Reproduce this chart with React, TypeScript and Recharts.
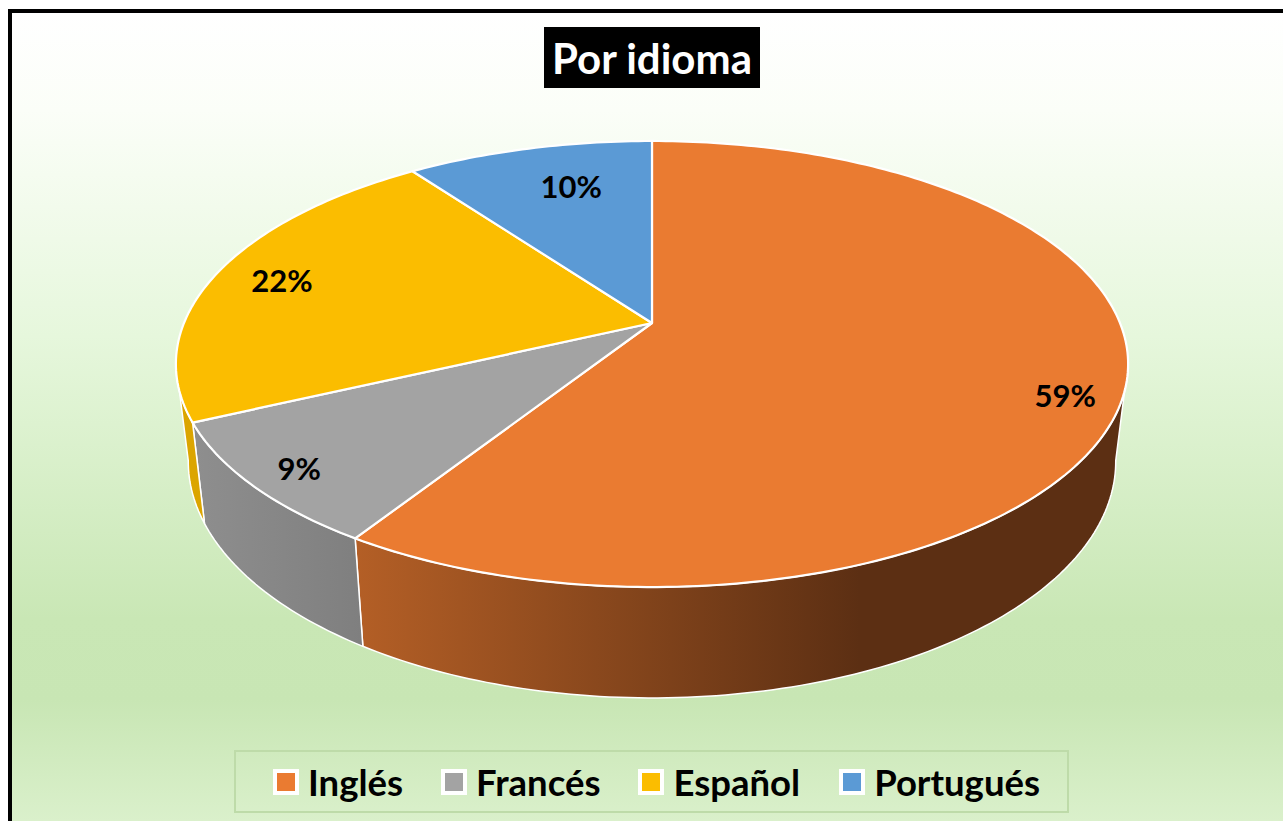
import React from 'react';
import { PieChart, Pie, Cell, Legend } from 'recharts';

const languages = ['Inglés', 'Francés', 'Español', 'Portugués'];
const shares = [59, 9, 22, 10];
const faceColors = ['#ea7b31', '#a3a3a3', '#fbbd00', '#5b9ad5'];
const wallFills = ['url(#wallOrange)', 'url(#wallGray)', '#dba500', '#4a7fb0'];
const labelReach = [0.88, 0.9, 0.86, 0.68];
const labelNudgeX = [-1, 2, 5, 7];
const labelNudgeY = [17, 1, 1, -12];

const chartData = languages.map((name, i) => ({ name, value: shares[i] }));

const FONT = 'Lato, "Open Sans", sans-serif';
const APEX_X = 652;
const APEX_Y = 323;
const RADIUS = 468;
// Tilted-disc projection of the pie (perspective foreshortening).
const TILT_Q = 0.1839;
const TILT_B = 215.5 / 468;
const WALL_SCALE_X = 0.974;
const WALL_SCALE_Y = 1.06;
const WALL_DROP = 95;
const WALL_FROM = 100.4;
const WALL_TO = 259.6;

type P = [number, number];

function project(cx: number, cy: number, R: number, clock: number, r = 1): P {
  const t = (clock * Math.PI) / 180;
  const u = Math.sin(t) * r;
  const v = Math.cos(t) * r;
  const d = 1 + TILT_Q * v;
  return [cx + (R * u) / d, cy - (R * TILT_B * v) / d];
}

function lower(cx: number, cy: number, p: P): P {
  return [cx + (p[0] - cx) * WALL_SCALE_X, cy + WALL_DROP + (p[1] - cy) * WALL_SCALE_Y];
}

function arcPoints(cx: number, cy: number, R: number, a: number, b: number): P[] {
  const n = Math.max(2, Math.ceil(Math.abs(b - a)));
  const pts: P[] = [];
  for (let i = 0; i <= n; i++) pts.push(project(cx, cy, R, a + ((b - a) * i) / n));
  return pts;
}

const toPath = (pts: P[]) =>
  pts.map((p, i) => `${i ? 'L' : 'M'}${p[0].toFixed(2)} ${p[1].toFixed(2)}`).join(' ') + ' Z';

function FaceShape(props: any) {
  const { cx, cy, outerRadius, startAngle, endAngle, fill } = props;
  const pts = arcPoints(cx, cy, outerRadius, 90 - startAngle, 90 - endAngle);
  return <path d={toPath([[cx, cy], ...pts])} fill={fill} stroke="#ffffff" strokeWidth={2.2} strokeLinejoin="round" />;
}

function WallShape(props: any) {
  const { cx, cy, outerRadius, startAngle, endAngle, fill } = props;
  const a = Math.max(90 - startAngle, WALL_FROM);
  const b = Math.min(90 - endAngle, WALL_TO);
  if (b <= a) return <g />;
  const top = arcPoints(cx, cy, outerRadius, a, b);
  const bottom = top.map((p) => lower(cx, cy, p)).reverse();
  return <path d={toPath([...top, ...bottom])} fill={fill} stroke="#ffffff" strokeWidth={1.5} strokeLinejoin="round" />;
}

function PercentLabel(props: any) {
  const { cx, cy, outerRadius, midAngle, index, value } = props;
  const p = project(cx, cy, outerRadius, 90 - midAngle, labelReach[index]);
  return (
    <text x={p[0] + labelNudgeX[index]} y={p[1] + labelNudgeY[index]} textAnchor="middle" dominantBaseline="central"
      fontFamily={FONT} fontWeight={700} fontSize={31} fill="#000000">
      {value}%
    </text>
  );
}

function LegendBox(props: any) {
  const items = (props.payload || [])
    .filter((it: any) => it.type !== 'none' && faceColors.includes(it.color))
    .sort((a: any, b: any) => languages.indexOf(a.value) - languages.indexOf(b.value));
  const gaps = [0, 38, 38, 39];
  return (
    <div style={{ width: 835, height: 63, boxSizing: 'border-box', border: '2px solid #bedba9', display: 'flex', alignItems: 'center', paddingLeft: 37, fontFamily: FONT, fontWeight: 700, fontSize: 36.5, color: '#000' }}>
      {items.map((it: any, i: number) => (
        <div key={it.value} style={{ display: 'flex', alignItems: 'center', marginLeft: gaps[i] }}>
          <span style={{ width: 18, height: 18, border: '4px solid #fff', background: it.color, marginRight: 9, display: 'inline-block' }} />
          <span>{it.value}</span>
        </div>
      ))}
    </div>
  );
}

export default function App() {
  return (
    <div style={{ position: 'absolute', left: 0, top: 0, width: 1283, height: 821, overflow: 'hidden', background: '#fff' }}>
      <div style={{
        position: 'absolute', left: 8, top: 9, right: 0, bottom: 0, boxSizing: 'border-box',
        borderLeft: '4px solid #000', borderTop: '4px solid #000',
        background: 'linear-gradient(180deg, #ffffff 0%, #fbfef8 12%, #e6f7dc 40%, #c9e7b5 75%, #c8e6b4 85%, #daf0cb 100%)',
      }} />
      <div style={{ position: 'absolute', left: 0, top: 0 }}>
        <PieChart width={1283} height={821} margin={{ top: 0, right: 0, bottom: 0, left: 0 }}>
          <defs>
            <linearGradient id="wallOrange" gradientUnits="userSpaceOnUse" x1={355} y1={0} x2={860} y2={0}>
              <stop offset="0%" stopColor="#b45f26" />
              <stop offset="100%" stopColor="#5c2f13" />
            </linearGradient>
            <linearGradient id="wallGray" gradientUnits="userSpaceOnUse" x1={195} y1={0} x2={362} y2={0}>
              <stop offset="0%" stopColor="#8e8e8e" />
              <stop offset="100%" stopColor="#7f7f7f" />
            </linearGradient>
          </defs>
          <Pie data={chartData} dataKey="value" nameKey="name" cx={APEX_X} cy={APEX_Y} outerRadius={RADIUS}
            startAngle={90} endAngle={-270} isAnimationActive={false} legendType="none" shape={WallShape}>
            {chartData.map((d, i) => <Cell key={d.name} fill={wallFills[i]} />)}
          </Pie>
          <Pie data={chartData} dataKey="value" nameKey="name" cx={APEX_X} cy={APEX_Y} outerRadius={RADIUS}
            startAngle={90} endAngle={-270} isAnimationActive={false} shape={FaceShape}
            label={PercentLabel} labelLine={false}>
            {chartData.map((d, i) => <Cell key={d.name} fill={faceColors[i]} />)}
          </Pie>
          <Legend content={<LegendBox />} layout="horizontal" align="center" verticalAlign="middle" itemSorter={null}
            wrapperStyle={{ position: 'absolute', left: 234, top: 750, width: 835, height: 63 }} />
        </PieChart>
      </div>
      <div style={{
        position: 'absolute', left: 544, top: 27, width: 216, height: 61, background: '#000', color: '#fff',
        fontFamily: FONT, fontWeight: 700, fontSize: 42, display: 'flex', alignItems: 'center', justifyContent: 'center',
      }}>Por idioma</div>
    </div>
  );
}
